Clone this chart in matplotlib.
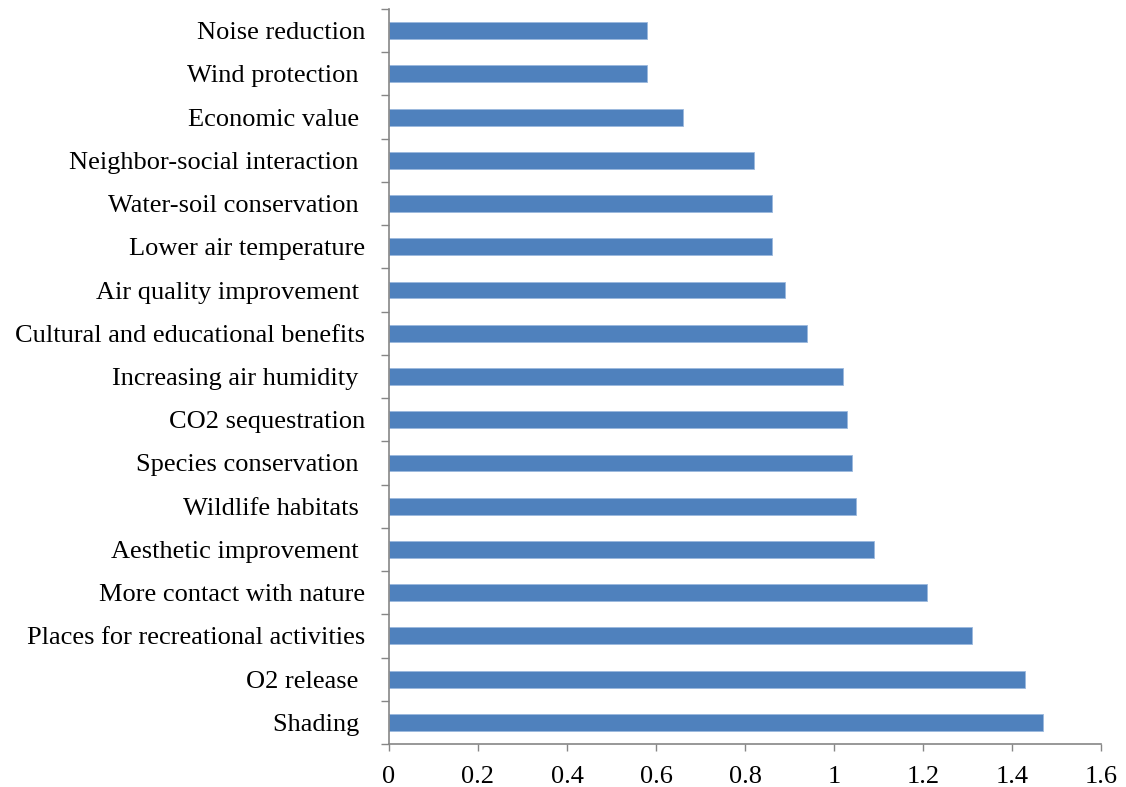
import matplotlib
matplotlib.use("Agg")
import matplotlib.pyplot as plt
import numpy as np

categories = ["Shading ", "O2 release ", "Places for recreational activities",
              "More contact with nature", "Aesthetic improvement ", "Wildlife habitats ",
              "Species conservation ", "CO2 sequestration", "Increasing air humidity ",
              "Cultural and educational benefits", "Air quality improvement ",
              "Lower air temperature", "Water-soil conservation ",
              "Neighbor-social interaction ", "Economic value ", "Wind protection ",
              "Noise reduction"]
values = [1.47, 1.43, 1.31, 1.21, 1.09, 1.05, 1.04, 1.03, 1.02, 0.94, 0.89,
          0.86, 0.86, 0.82, 0.66, 0.58, 0.58]
xticks = [0, 0.2, 0.4, 0.6, 0.8, 1, 1.2, 1.4, 1.6]
xticklabels = ["0", "0.2", "0.4", "0.6", "0.8", "1", "1.2", "1.4", "1.6"]

plt.rcParams['font.family'] = ['Liberation Serif', 'DejaVu Serif']

fig = plt.figure(figsize=(11.26, 7.87), dpi=100)
ax = fig.add_axes([389/1126, 1 - 744/787, (1101-389)/1126, (744-9)/787])

y = np.arange(len(categories))
ax.barh(y, values, height=0.39, color="#4F81BD", edgecolor="#9BB8DD", linewidth=0.6)

ax.set_xlim(0, 1.6)
ax.set_ylim(-0.5, len(categories) - 0.5)
ax.set_xticks(xticks)
ax.set_xticklabels(xticklabels, fontsize=19)
ax.set_yticks(y)
ax.set_yticklabels(categories, fontsize=19)
ax.tick_params(axis='y', which='major', length=0, pad=17)
ax.set_yticks(np.arange(-0.5, len(categories), 1), minor=True)
ax.tick_params(axis='y', which='minor', length=6, width=1, color="#868686", direction='out')
ax.tick_params(axis='x', length=5, width=1, color="#868686", direction='out', pad=11)

for s in ['top', 'right']:
    ax.spines[s].set_visible(False)
for s in ['left', 'bottom']:
    ax.spines[s].set_color("#868686")
    ax.spines[s].set_linewidth(1.2)

fig.savefig("out.png", dpi=100)
